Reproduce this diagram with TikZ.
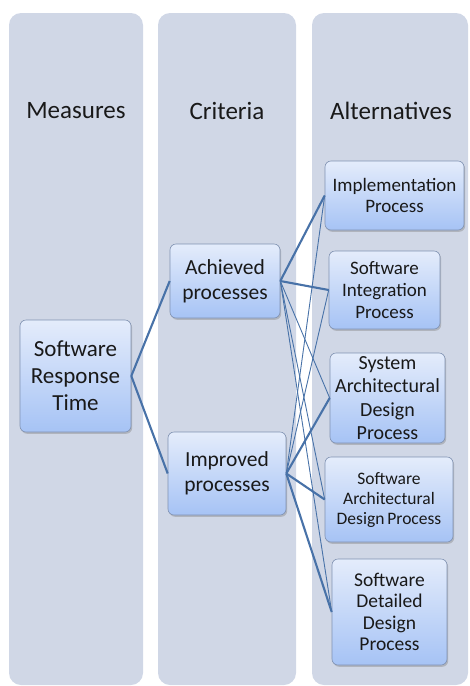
\documentclass[tikz,border=0pt]{standalone}
\usepackage{fontspec}
\setmainfont{Carlito}
\usepackage{tikz}
\usetikzlibrary{positioning,shadows}

\definecolor{lanegray}{RGB}{208,215,230}
\definecolor{boxtop}{RGB}{228,236,251}
\definecolor{boxbottom}{RGB}{166,195,245}
\definecolor{boxline}{RGB}{128,146,178}
\definecolor{linkblue}{RGB}{72,114,168}

\tikzset{
  lane/.style={fill=lanegray, rounded corners=12pt},
  heading/.style={inner sep=0pt, text=black!90,
    font=\fontsize{25}{29}\selectfont},
  box/.style={
    draw=boxline,
    line width=0.6pt,
    rounded corners=6pt,
    top color=boxtop,
    bottom color=boxbottom,
    align=center,
    inner sep=1pt,
    text=black!90,
    drop shadow={shadow xshift=1.2pt, shadow yshift=-1.8pt, opacity=0.4}
  },
  mainlink/.style={draw=linkblue, line width=2.1pt},
  sidelink/.style={draw=linkblue, line width=0.9pt}
}

\begin{document}
\begin{tikzpicture}[x=1pt, y=-1pt]
\useasboundingbox (0,0) rectangle (469,686);

% the three lanes
\fill[lane] (9,13) rectangle (143,685);
\fill[lane] (158,13) rectangle (296,685);
\fill[lane] (312,13) rectangle (468,685);

\node (measures) [heading] at (76,111) {Measures};
\node (criteria) [heading] at (227,111) {Criteria};
\node (alternatives) [heading] at (391,111) {Alternatives};

% measure
\node (srt) [box, minimum width=111pt, minimum height=112pt,
  font=\fontsize{23}{27}\selectfont] at (75.5,376)
  {Software\\Response\\Time};

% criteria
\node (achieved) [box, minimum width=110pt, minimum height=74pt,
  font=\fontsize{21.5}{25}\selectfont] at (225,281)
  {Achieved\\processes};
\node (improved) [box, minimum width=118pt, minimum height=83pt,
  font=\fontsize{21.5}{25}\selectfont] at (227,473.5)
  {Improved\\processes};

% alternatives
\node (impl) [box, minimum width=139pt, minimum height=69pt,
  font=\fontsize{19}{21}\selectfont] at (394.5,195.5)
  {Implementation\\Process};
\node (integ) [box, minimum width=111pt, minimum height=78pt,
  font=\fontsize{19}{22}\selectfont] at (384.5,290)
  {Software\\Integration\\Process};
\node (sysarch) [box, minimum width=115pt, minimum height=90pt,
  font=\fontsize{20}{23.5}\selectfont] at (387.5,398)
  {System\\Architectural\\Design\\Process};
\node (swarch) [box, minimum width=128pt, minimum height=85pt,
  font=\fontsize{17.5}{20}\selectfont] at (389,499.5)
  {Software\\Architectural\\Design\,Process};
\node (swdet) [box, minimum width=115pt, minimum height=106pt,
  font=\fontsize{19.5}{21.5}\selectfont] at (389.5,612)
  {Software\\Detailed\\Design\\Process};

% links
\draw[mainlink] (srt.east) -- (achieved.west);
\draw[mainlink] (srt.east) -- (improved.west);

\draw[mainlink] (achieved.east) -- (impl.west);
\draw[mainlink] (achieved.east) -- (integ.west);
\draw[sidelink] (achieved.east) -- (sysarch.west);
\draw[sidelink] (achieved.east) -- (swarch.west);
\draw[sidelink] (achieved.east) -- (swdet.west);

\draw[sidelink] (improved.east) -- (impl.west);
\draw[sidelink] (improved.east) -- (integ.west);
\draw[mainlink] (improved.east) -- (sysarch.west);
\draw[mainlink] (improved.east) -- (swarch.west);
\draw[mainlink] (improved.east) -- (swdet.west);

\end{tikzpicture}
\end{document}
